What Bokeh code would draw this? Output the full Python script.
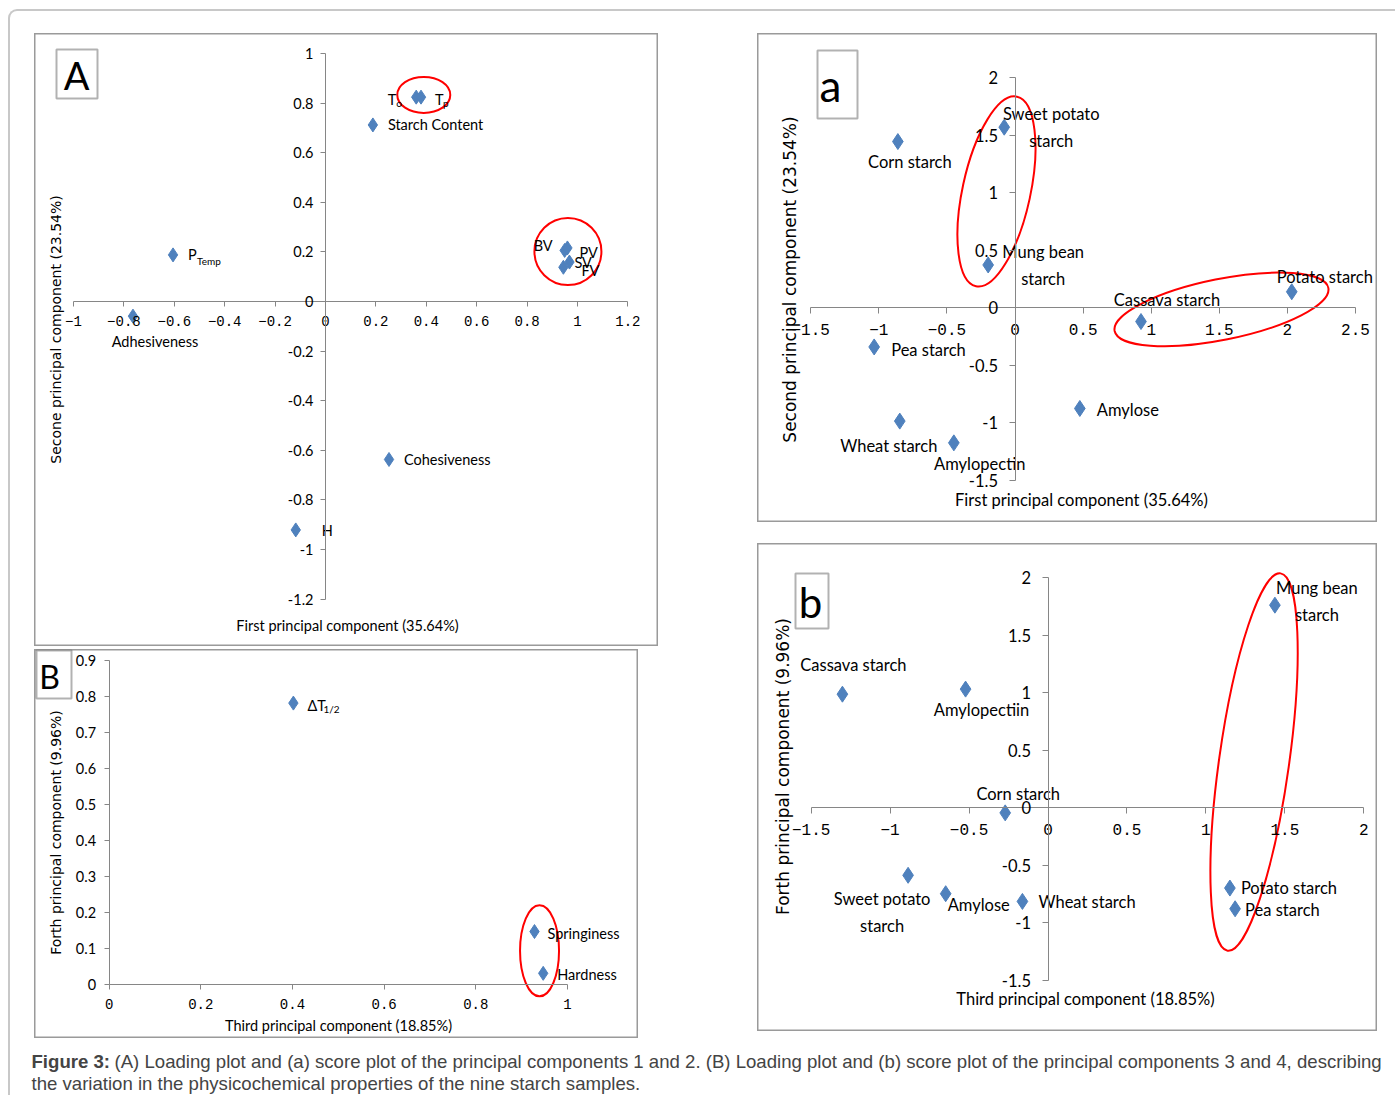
import math
from bokeh.plotting import figure
from bokeh.models import (Range1d, LinearAxis, FixedTicker, ColumnDataSource, Label,
                          Spacer, CustomJSTickFormatter, BoxAnnotation)
from bokeh.layouts import column, row
from bokeh.embed import file_html
from bokeh.resources import INLINE
from bokeh.core.properties import value

# ======================= DATA =======================
# Panel A : loading plot, PC1 vs PC2
A_vars = ["To", "Tp", "Starch Content", "PTemp", "BV", "PV", "SV", "FV",
          "Adhesiveness", "Cohesiveness", "H"]
A_text = ["T", "T", "Starch Content", "P", "BV", "PV", "SV", "FV",
          "Adhesiveness", "Cohesiveness", "H"]
A_sub = ["o", "p", "", "Temp", "", "", "", "", "", "", ""]
A_pc1 = [0.360, 0.379, 0.188, -0.605, 0.949, 0.960, 0.968, 0.944, -0.764, 0.252, -0.118]
A_pc2 = [0.824, 0.824, 0.712, 0.188, 0.206, 0.216, 0.159, 0.138, -0.059, -0.637, -0.921]
A_xticks = [-1, -0.8, -0.6, -0.4, -0.2, 0, 0.2, 0.4, 0.6, 0.8, 1, 1.2]
A_yticks = [-1.2, -1, -0.8, -0.6, -0.4, -0.2, 0, 0.2, 0.4, 0.6, 0.8, 1]
A_xtitle = "First principal component (35.64%)"
A_ytitle = "Secone principal component (23.54%)"

# Panel B : loading plot, PC3 vs PC4
B_vars = ["ΔT1/2", "Springiness", "Hardness"]
B_text = ["ΔT", "Springiness", "Hardness"]
B_sub = ["1/2", "", ""]
B_pc3 = [0.402, 0.928, 0.947]
B_pc4 = [0.781, 0.147, 0.031]
B_xticks = [0, 0.2, 0.4, 0.6, 0.8, 1]
B_yticks = [0, 0.1, 0.2, 0.3, 0.4, 0.5, 0.6, 0.7, 0.8, 0.9]
B_xtitle = "Third principal component (18.85%)"
B_ytitle = "Forth principal component (9.96%)"

# Panel a : score plot, PC1 vs PC2
a_names = ["Sweet potato\nstarch", "Corn starch", "Mung bean\nstarch", "Potato starch",
           "Cassava starch", "Pea starch", "Amylose", "Wheat starch", "Amylopectin"]
a_pc1 = [-0.079, -0.860, -0.197, 2.032, 0.925, -1.034, 0.476, -0.846, -0.449]
a_pc2 = [1.568, 1.443, 0.370, 0.137, -0.122, -0.343, -0.878, -0.988, -1.177]
a_xticks = [-1.5, -1, -0.5, 0, 0.5, 1, 1.5, 2, 2.5]
a_yticks = [-1.5, -1, -0.5, 0, 0.5, 1, 1.5, 2]
a_xtitle = "First principal component (35.64%)"
a_ytitle = "Second principal component (23.54%)"

# Panel b : score plot, PC3 vs PC4
b_names = ["Mung bean\nstarch", "Cassava starch", "Amylopectiin", "Corn starch",
           "Sweet potato\nstarch", "Amylose", "Wheat starch", "Potato starch", "Pea starch"]
b_pc3 = [1.437, -1.302, -0.522, -0.271, -0.886, -0.648, -0.162, 1.152, 1.185]
b_pc4 = [1.762, 0.988, 1.032, -0.044, -0.587, -0.747, -0.814, -0.698, -0.878]
b_xticks = [-1.5, -1, -0.5, 0, 0.5, 1, 1.5, 2]
b_yticks = [-1.5, -1, -0.5, 0, 0.5, 1, 1.5, 2]
b_xtitle = "Third principal component (18.85%)"
b_ytitle = "Forth principal component (9.96%)"

# Highlight ellipses (centre in data units, size in px, angle in degrees)
A_ell = dict(x=[0.390, 0.962], y=[0.833, 0.2016], w=[53, 67], h=[36, 67], ang=[0, 0])
B_ell = dict(x=[0.939], y=[0.0935], w=[39], h=[91], ang=[0])
a_ell = dict(x=[-0.136, 1.516], y=[1.009, -0.017], w=[194, 218], h=[68, 61], ang=[77.8, 11.4])
b_ell = dict(x=[1.305], y=[0.398], w=[381], h=[70], ang=[82])

CAPTION_BOLD = "Figure 3:"
CAPTION_1 = ("(A) Loading plot and (a) score plot of the principal components 1 and 2. "
             "(B) Loading plot and (b) score plot of the principal components 3 and 4, describing")
CAPTION_2 = "the variation in the physicochemical properties of the nine starch samples."

# ======================= STYLE =======================
BLUE = "#4F81BD"
AXIS = "#868686"
SANS = "Lato"
MONO = "Liberation Mono"
VERD = "DejaVu Sans"

# label placement (dx, dy in px, align)
A_lab = [(-20, 2, "right"), (14, 2, "left"), (15, 0, "left"), (15, 0, "left"),
         (-12, -5, "right"), (12, 5, "left"), (5, 0, "left"), (18, 3, "left"),
         (22, 25, "center"), (15, 0, "left"), (26, 1, "left")]
A_subpos = [(-20, 6), (22, 6), (0, 0), (24, 6), (0, 0), (0, 0), (0, 0), (0, 0), (0, 0), (0, 0), (0, 0)]
B_lab = [(14, 2, "left"), (13, 2, "left"), (14, 1, "left")]
B_subpos = [(30, 6), (0, 0), (0, 0)]
a_lab = [(47, 0, "center"), (12, 20, "center"), (55, 1, "center"), (33, -15, "center"),
         (26, -22, "center"), (17, 3, "left"), (17, 2, "left"), (-11, 25, "center"),
         (26, 21, "center")]
b_lab = [(42, -4, "center"), (11, -29, "center"), (16, 21, "center"), (13, -19, "center"),
         (-26, 37, "center"), (2, 11, "left"), (16, 1, "left"), (11, 0, "left"), (10, 1, "left")]

# panel calibration: page left, top, width, height, px of x=0, px/unit x, px of y=0, px/unit y
CAL_A = (34, 33, 624, 613, 325.0, 252.0, 301.0, 248.0)
CAL_B = (34, 649, 604, 389, 108.6, 458.4, 984.0, 360.3)
CAL_a = (757, 33, 620, 489, 1014.5, 136.2, 307.0, 115.0)
CAL_b = (757, 543, 620, 488, 1047.5, 157.9, 807.3, 115.0)


def fmt(minus):
    code = "var v = Math.round(tick*100)/100; var s = String(v);"
    if minus:
        code += " s = s.replace('-', '\\u2212');"
    code += " return s;"
    return CustomJSTickFormatter(code=code)


def X(cal, px):
    return (px - cal[4]) / cal[5]


def Y(cal, py):
    return (cal[6] - py) / cal[7]


def make_panel(cal, xticks, yticks, xfs, yfs, tick_out, xstand, ystand):
    left, top, w, h = cal[:4]
    xr = Range1d(X(cal, left), X(cal, left + w))
    yr = Range1d(Y(cal, top + h), Y(cal, top))
    p = figure(width=w, height=h, x_range=xr, y_range=yr, title=None,
               output_backend="svg", toolbar_location=None,
               x_axis_location=None, y_axis_location=None, min_border=0)
    p.xgrid.visible = False
    p.ygrid.visible = False
    p.outline_line_color = "#9a9a9a"
    p.outline_line_width = 2
    p.background_fill_color = "white"
    p.border_fill_color = "white"
    xa = LinearAxis(fixed_location=0, bounds=(min(xticks), max(xticks)),
                    ticker=FixedTicker(ticks=xticks), formatter=fmt(True))
    ya = LinearAxis(fixed_location=0, bounds=(min(yticks), max(yticks)),
                    ticker=FixedTicker(ticks=yticks), formatter=fmt(False))
    for ax, font, fs, st in ((xa, MONO, xfs, xstand), (ya, SANS, yfs, ystand)):
        ax.axis_line_color = AXIS
        ax.axis_line_width = 1
        ax.major_tick_line_color = AXIS
        ax.major_tick_out = tick_out
        ax.major_tick_in = 0
        ax.minor_tick_line_color = None
        ax.major_label_text_font = font
        ax.major_label_text_font_size = fs
        ax.major_label_text_color = "black"
        ax.major_label_standoff = st
    p.add_layout(xa, "below")
    p.add_layout(ya, "left")
    return p


def add_ellipses(p, ell):
    src = ColumnDataSource(dict(x=ell["x"], y=ell["y"], w=ell["w"], h=ell["h"],
                                a=[math.radians(v) for v in ell["ang"]]))
    p.ellipse(x="x", y="y", width="w", height="h", angle="a", source=src,
              width_units="screen", height_units="screen",
              fill_color=None, line_color="#FF0000", line_width=2)


def add_points(p, xs, ys, texts, lab, fs, msize, subs=None, subpos=None):
    p.scatter(xs, ys, marker="diamond", size=msize, fill_color=BLUE, line_color=BLUE)
    src = ColumnDataSource(dict(x=xs, y=ys, t=texts, dx=[l[0] for l in lab],
                                dy=[l[1] for l in lab], al=[l[2] for l in lab]))
    p.text(x="x", y="y", text="t", x_offset="dx", y_offset="dy", text_align="al",
           text_baseline="middle", text_font=value(SANS), text_font_size=fs,
           text_line_height=1.35, text_color="black", source=src)
    if subs:
        idx = [i for i, s in enumerate(subs) if s]
        ssrc = ColumnDataSource(dict(x=[xs[i] for i in idx], y=[ys[i] for i in idx],
                                     t=[subs[i] for i in idx],
                                     dx=[subpos[i][0] for i in idx],
                                     dy=[subpos[i][1] for i in idx]))
        p.text(x="x", y="y", text="t", x_offset="dx", y_offset="dy", text_align="left",
               text_baseline="middle", text_font=value(SANS), text_font_size="10px",
               text_color="black", source=ssrc)


def add_titles(p, cal, xtitle, xc, xy, xfs, ytitle, yx, yc, yfs):
    p.add_layout(Label(x=X(cal, xc), y=Y(cal, xy), text=xtitle, text_align="center",
                       text_baseline="middle", text_font=SANS, text_font_size=xfs,
                       text_color="black"))
    p.add_layout(Label(x=X(cal, yx), y=Y(cal, yc), text=ytitle, text_align="center",
                       text_baseline="middle", text_font=VERD, text_font_size=yfs,
                       angle=math.pi / 2, text_color="black"))


def add_letter(p, cal, letter, box, cx, cy, fs):
    l, t, r, b = box
    p.add_layout(BoxAnnotation(left=X(cal, l), right=X(cal, r), top=Y(cal, t), bottom=Y(cal, b),
                               fill_color="white", fill_alpha=1.0, line_color="black",
                               line_width=2, level="overlay"))
    p.add_layout(Label(x=X(cal, cx), y=Y(cal, cy), text=letter, text_align="center",
                       text_baseline="middle", text_font=SANS, text_font_size=fs,
                       text_color="black", level="overlay"))


# ---------------- Panel A ----------------
pA = make_panel(CAL_A, A_xticks, A_yticks, "14px", "14.5px", 5, 9, 7)
add_ellipses(pA, A_ell)
add_points(pA, A_pc1, A_pc2, A_text, A_lab, "14.5px", 14, A_sub, A_subpos)
add_titles(pA, CAL_A, A_xtitle, 347, 625, "14.5px", A_ytitle, 55, 329, "14px")
add_letter(pA, CAL_A, "A", (56, 49, 97, 98), 76, 74, "38px")

# ---------------- Panel B ----------------
pB = make_panel(CAL_B, B_xticks, B_yticks, "14px", "14.5px", 5, 9, 8)
add_ellipses(pB, B_ell)
add_points(pB, B_pc3, B_pc4, B_text, B_lab, "14.5px", 14, B_sub, B_subpos)
add_titles(pB, CAL_B, B_xtitle, 338, 1025, "14.5px", B_ytitle, 55, 832, "14px")
add_letter(pB, CAL_B, "B", (36, 650, 71, 698), 49, 676, "32px")

# ---------------- Panel a ----------------
pa = make_panel(CAL_a, a_xticks, a_yticks, "16px", "16.5px", 6, 10, 11)
add_ellipses(pa, a_ell)
add_points(pa, a_pc1, a_pc2, a_names, a_lab, "16.5px", 16)
add_titles(pa, CAL_a, a_xtitle, 1081, 499, "16.5px", a_ytitle, 789, 279, "17px")
add_letter(pa, CAL_a, "a", (817, 50, 857, 118), 830, 84, "44px")

# ---------------- Panel b ----------------
pb = make_panel(CAL_b, b_xticks, b_yticks, "16px", "16.5px", 6, 10, 11)
add_ellipses(pb, b_ell)
add_points(pb, b_pc3, b_pc4, b_names, b_lab, "16.5px", 16)
add_titles(pb, CAL_b, b_xtitle, 1085, 998, "16.5px", b_ytitle, 782, 766, "17px")
add_letter(pb, CAL_b, "b", (795, 573, 828, 628), 810, 601, "42px")

# ---------------- Caption ----------------
cap = figure(width=1385, height=50, x_range=Range1d(0, 1385), y_range=Range1d(50, 0),
             title=None, output_backend="svg", toolbar_location=None,
             x_axis_location=None, y_axis_location=None, min_border=0)
cap.xgrid.visible = False
cap.ygrid.visible = False
cap.outline_line_color = None
cap.add_layout(Label(x=21, y=16, text=CAPTION_BOLD, text_font="Liberation Sans",
                     text_font_style="bold", text_font_size="18.6px", text_baseline="middle"))
cap.add_layout(Label(x=104, y=16, text=CAPTION_1, text_font="Liberation Sans",
                     text_font_size="18.6px", text_baseline="middle"))
cap.add_layout(Label(x=21, y=38, text=CAPTION_2, text_font="Liberation Sans",
                     text_font_size="18.6px", text_baseline="middle"))

left_col = column(pA, Spacer(width=10, height=3), pB)
right_col = column(pa, Spacer(width=10, height=21), pb)
framed = column(
    Spacer(width=10, height=22),
    row(Spacer(width=24, height=10), left_col, Spacer(width=99, height=10), right_col),
    Spacer(width=10, height=7),
    cap,
    styles={"border-top": "2px solid #c8c8c8", "border-left": "2px solid #c8c8c8",
            "border-top-left-radius": "9px"},
)
root = column(Spacer(width=10, height=9), row(Spacer(width=8, height=10), framed))

open("out.html", "w").write(file_html(root, INLINE))
